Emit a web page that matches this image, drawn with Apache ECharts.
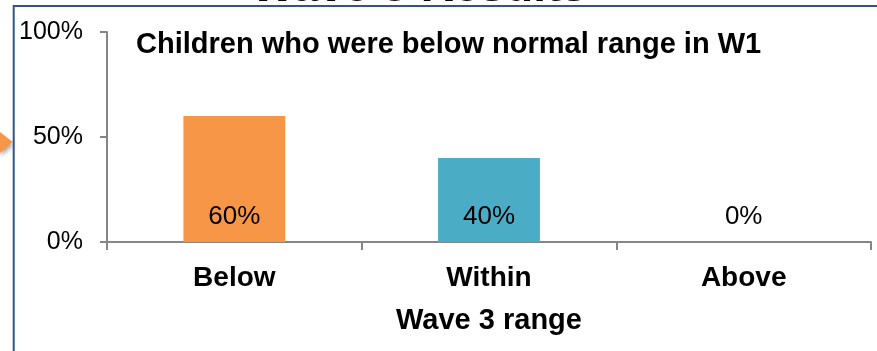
<!DOCTYPE html>
<html>
<head>
<meta charset="utf-8">
<script src="https://cdn.jsdelivr.net/npm/echarts@6/dist/echarts.min.js"></script>
<style>
html,body{margin:0;padding:0;background:#fff;}
#c{width:877px;height:351px;}
</style>
</head>
<body>
<div id="c"></div>
<script>
var categories = ['Below', 'Within', 'Above'];
var values = [0.60, 0.40, 0.00];
var barColors = ['#F79646', '#4BACC6', '#9BBB59'];
var yTicks = [0, 0.5, 1];
var chartTitle = 'Children who were below normal range in W1';
var slideTitle = 'Wave 3 Results';
var xAxisName = 'Wave 3 range';

var FONT = '"Liberation Sans", Arial, sans-serif';
var chart = echarts.init(document.getElementById('c'), null, {renderer: 'canvas'});
chart.setOption({
  animation: false,
  backgroundColor: '#ffffff',
  title: {
    text: chartTitle,
    left: 131, top: 25,
    textStyle: {fontFamily: FONT, fontSize: 29, fontWeight: 'bold', color: '#000'}
  },
  grid: {left: 107, right: 6, top: 32, bottom: 109, containLabel: false},
  xAxis: {
    type: 'category',
    data: categories,
    name: xAxisName,
    nameLocation: 'middle',
    nameGap: 64,
    nameTextStyle: {fontFamily: FONT, fontSize: 29, fontWeight: 'bold', color: '#000'},
    axisLine: {lineStyle: {color: '#868686', width: 2}},
    axisTick: {show: true, length: 8, lineStyle: {color: '#868686', width: 2}},
    axisLabel: {fontFamily: FONT, fontSize: 28, fontWeight: 'bold', color: '#000', margin: 22}
  },
  yAxis: {
    type: 'value',
    min: 0, max: 1, interval: 0.5,
    axisLine: {show: true, lineStyle: {color: '#868686', width: 2}},
    axisTick: {show: true, length: 7, lineStyle: {color: '#868686', width: 2}},
    splitLine: {show: false},
    axisLabel: {
      fontFamily: FONT, fontSize: 25, color: '#000', margin: 24,
      formatter: function (v) { return Math.round(v * 100) + '%'; }
    }
  },
  series: [{
    type: 'bar',
    barWidth: '40%',
    data: values.map(function (v, i) { return {value: v, itemStyle: {color: barColors[i]}}; }),
    label: {
      show: true,
      position: 'insideBottom',
      distance: 12,
      fontFamily: FONT, fontSize: 26, color: '#000',
      formatter: function (p) { return Math.round(p.value * 100) + '%'; }
    }
  }],
  graphic: [
    {
      type: 'text',
      x: 419, y: -12,
      style: {text: slideTitle, textAlign: 'center', textVerticalAlign: 'middle',
        font: 'bold 46px ' + FONT, fill: '#000'},
      z: 1
    },
    {
      type: 'rect',
      shape: {x: 13.7, y: 6, width: 900, height: 400},
      style: {fill: 'none', stroke: '#2C5592', lineWidth: 2},
      z: 10
    },
    {
      type: 'polygon',
      shape: {points: [[0, 132], [12.5, 142], [0, 153]]},
      style: {fill: '#F79646', shadowBlur: 4, shadowColor: 'rgba(0,0,0,0.35)', shadowOffsetX: 1, shadowOffsetY: 3},
      z: 5
    }
  ]
});
</script>
</body>
</html>
